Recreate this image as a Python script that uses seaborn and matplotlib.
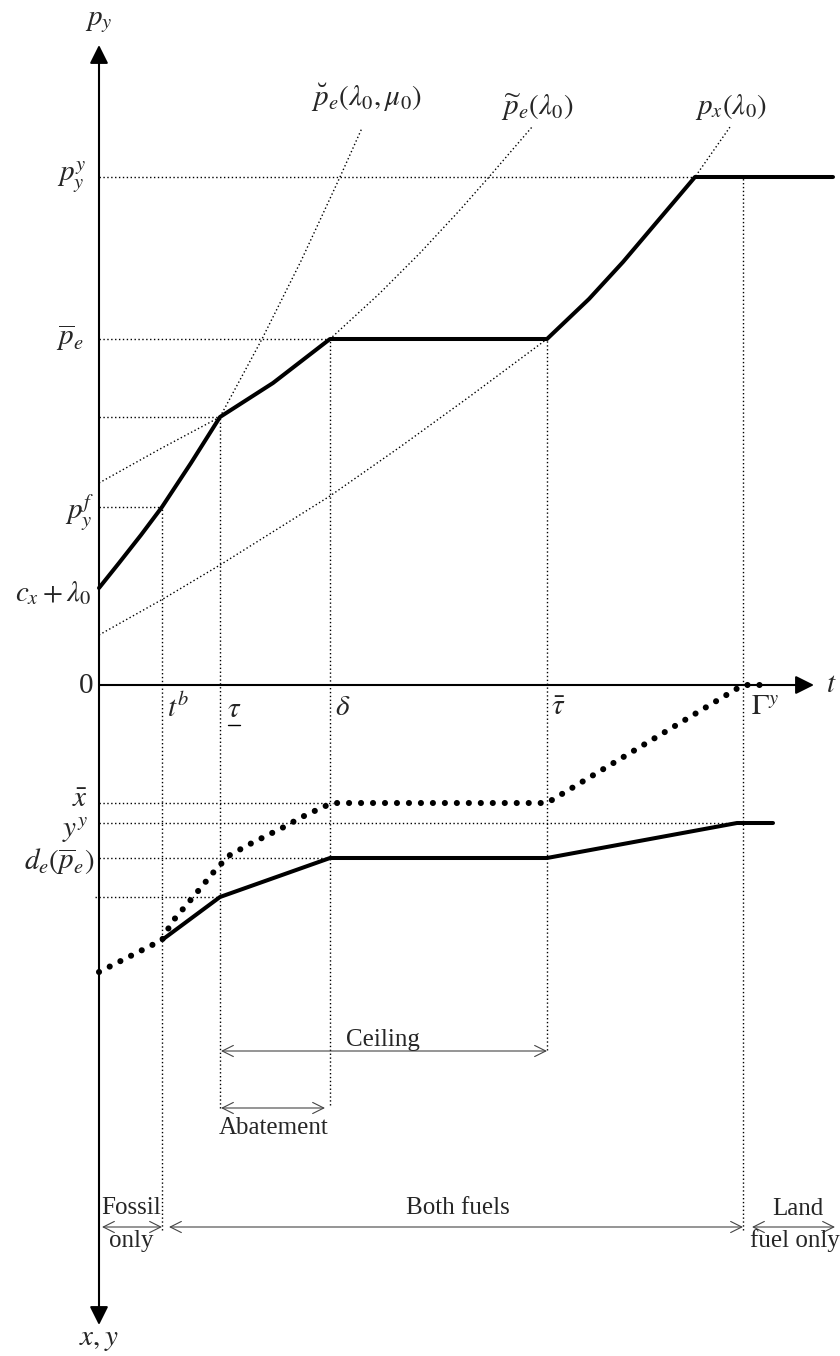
import matplotlib
matplotlib.use("Agg")
import matplotlib.pyplot as plt
import seaborn as sns
import pandas as pd

# key dates on the t axis
t_b, tau_lo, delta, tau_hi, gamma_y = 6.3, 12.1, 23.1, 44.8, 64.4
# key price levels (upper panel)
p_yy, p_bar, p_tau, p_yf, cx_l0 = 50.8, 34.6, 26.8, 17.8, 9.7
# key quantity levels (lower panel, drawn downwards)
x_bar, y_yy, d_e, y_tau, x_start = -11.8, -13.8, -17.3, -21.2, -28.7

# price path (thick)
price_t = [0, 2.0, 4.2, 6.3, 9.2, 12.1, 17.4, 23.1, 44.8, 49.0, 52.4, 57.4, 59.6, 73.4]
price_p = [9.7, 12.2, 15.0, 17.8, 22.2, 26.8, 30.2, 34.6, 34.6, 38.6, 42.3, 48.2, 50.8, 50.8]

# p_e breve (lambda0, mu0)
breve_t = [12.1, 16.3, 20.2, 24.1, 26.3]
breve_p = [26.8, 34.6, 42.4, 50.8, 55.7]

# p_e tilde (lambda0)
tilde_t = [0, 6.1, 12.1, 17.4, 23.1, 28.0, 32.1, 36.0, 39.0, 43.3]
tilde_p = [20.2, 23.6, 26.8, 30.2, 34.6, 39.1, 43.2, 47.4, 50.8, 55.8]

# p_x (lambda0)
px_t = [0, 6.4, 12.1, 23.1, 30.1, 37.0, 44.8, 49.0, 52.4, 57.4, 59.6, 63.1]
px_p = [5.0, 8.6, 12.0, 18.9, 23.8, 28.8, 34.6, 38.6, 42.3, 48.2, 50.8, 55.8]

# land-fuel quantity y (thick, lower panel)
yq_t = [6.3, 12.1, 23.1, 44.8, 63.8, 67.4]
yq_v = [-25.5, -21.2, -17.3, -17.3, -13.8, -13.8]

# fossil quantity x (big dots, lower panel)
xq_t = [0, 6.3, 7.3, 9.5, 11.8, 13.1, 15.1, 18.3, 20.3, 22.4, 23.4, 44.8, 64.4, 67.1]
xq_v = [-28.7, -25.5, -23.7, -21.1, -18.3, -17.0, -15.9, -14.3, -13.2, -12.2, -11.8, -11.8, 0, 0]

sns.set_style("white")
plt.rcParams["mathtext.fontset"] = "stix"
plt.rcParams["font.family"] = ["Liberation Serif", "DejaVu Serif"]

fig = plt.figure(figsize=(8.4, 13.56), dpi=100)
ax = fig.add_axes([0, 0, 1, 1])
ax.set_xlim(-9.9, 74.1)
ax.set_ylim(-67.1, 68.5)
ax.axis("off")

fine = (0, (1, 1.8))
gl = dict(color="black", lw=1.0, linestyle=fine)

# guide lines
ax.hlines([p_yy], 0, 59.6, **gl)
ax.hlines([p_bar], 0, delta, **gl)
ax.hlines([p_tau], 0, tau_lo, **gl)
ax.hlines([p_yf], 0, t_b, **gl)
ax.hlines([x_bar], 0, 23.4, **gl)
ax.hlines([y_yy], 0, 63.8, **gl)
ax.hlines([d_e], 0, delta, **gl)
ax.hlines([y_tau], -0.4, tau_lo, **gl)
ax.vlines([t_b], -54.5, p_yf, **gl)
ax.vlines([tau_lo], -42.3, p_tau, **gl)
ax.vlines([delta], -42.0, p_bar, **gl)
ax.vlines([tau_hi], -36.5, p_bar, **gl)
ax.vlines([gamma_y], -54.5, p_yy, **gl)

# dotted price curves
for tt, pp in [(breve_t, breve_p), (tilde_t, tilde_p), (px_t, px_p)]:
    sns.lineplot(data=pd.DataFrame({"t": tt, "p": pp}), x="t", y="p", sort=False,
                 estimator=None, ax=ax, color="black", lw=1.0, linestyle=fine)

# thick paths
sns.lineplot(data=pd.DataFrame({"t": price_t, "p": price_p}), x="t", y="p", sort=False,
             estimator=None, ax=ax, color="black", lw=2.9)
sns.lineplot(data=pd.DataFrame({"t": yq_t, "q": yq_v}), x="t", y="q", sort=False,
             estimator=None, ax=ax, color="black", lw=2.9)
sns.lineplot(data=pd.DataFrame({"t": xq_t, "q": xq_v}), x="t", y="q", sort=False,
             estimator=None, ax=ax, color="black", lw=4.4,
             linestyle=(0, (0.01, 1.95)), dash_capstyle="round")

# axes with arrows
ax.annotate("", xy=(0, 64.0), xytext=(0, -64.0),
            arrowprops=dict(arrowstyle="<|-|>", mutation_scale=28, lw=1.5, color="black",
                            shrinkA=0, shrinkB=0))
ax.annotate("", xy=(71.5, 0), xytext=(0, 0),
            arrowprops=dict(arrowstyle="-|>", mutation_scale=28, lw=1.5, color="black",
                            shrinkA=0, shrinkB=0))

# interval arrows
arr = dict(arrowstyle="<->", mutation_scale=20, lw=0.8, color="#444444", shrinkA=0, shrinkB=0)
for a, b, y in [(tau_lo + 0.1, tau_hi, -36.6), (tau_lo + 0.1, 22.6, -42.3),
                (0.3, t_b, -54.2), (7.0, gamma_y, -54.2), (65.3, 73.6, -54.2)]:
    ax.annotate("", xy=(b, y), xytext=(a, y), arrowprops=arr)

fs = 21
tk = dict(fontsize=fs, ha="center", va="center")
ax.text(0, 66.3, r"$p_y$", **tk)
ax.text(-2.7, 50.8, r"$p_y^y$", **tk)
ax.text(-2.9, 34.7, r"$\overline{p}_e$", **tk)
ax.text(-1.9, 17.3, r"$p_y^f$", **tk)
ax.text(-0.7, 9.2, r"$c_x+\lambda_0$", fontsize=fs, ha="right", va="center")
ax.text(-1.3, -0.1, "0", **tk)
ax.text(73.2, 0, r"$t$", **tk)
ax.text(7.9, -2.3, r"$t^b$", **tk)
ax.text(13.5, -2.5, r"$\tau$", **tk)
ax.plot([12.9, 14.1], [-4.0, -4.0], color="black", lw=1.0)
ax.text(24.4, -2.3, r"$\delta$", **tk)
ax.text(45.9, -2.3, r"$\bar{\tau}$", **tk)
ax.text(66.6, -2.3, r"$\Gamma^y$", **tk)
ax.text(-1.9, -11.5, r"$\bar{x}$", **tk)
ax.text(-2.4, -14.5, r"$y^y$", **tk)
ax.text(-0.5, -17.7, r"$d_e(\overline{p}_e)$", fontsize=fs, ha="right", va="center")
ax.text(26.7, 58.7, r"$\breve{p}_e(\lambda_0,\mu_0)$", **tk)
ax.text(43.8, 57.8, r"$\widetilde{p}_e(\lambda_0)$", **tk)
ax.text(63.2, 57.8, r"$p_x(\lambda_0)$", **tk)
ax.text(0, -65.5, r"$x, y$", **tk)

wk = dict(fontsize=18, ha="center", va="center")
ax.text(28.4, -35.5, "Ceiling", **wk)
ax.text(17.5, -44.3, "Abatement", **wk)
ax.text(3.2, -52.3, "Fossil", **wk)
ax.text(3.2, -55.6, "only", **wk)
ax.text(35.9, -52.3, "Both fuels", **wk)
ax.text(69.9, -52.4, "Land", **wk)
ax.text(69.6, -55.6, "fuel only", **wk)

fig.savefig("out.png", dpi=100)
